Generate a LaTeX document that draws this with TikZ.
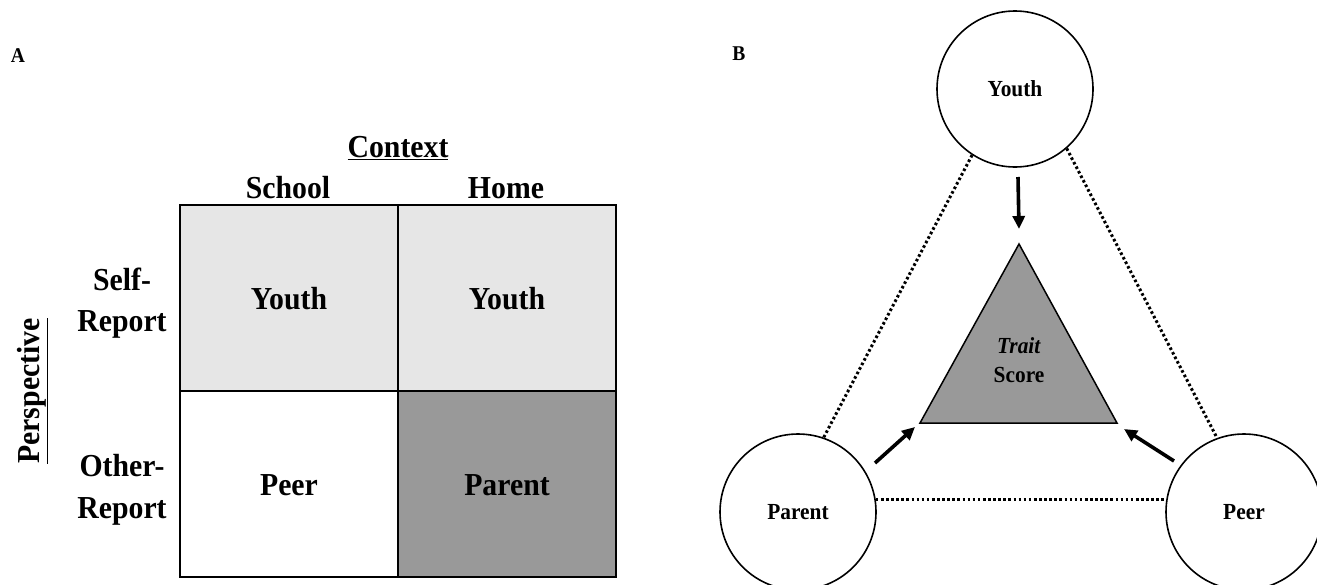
\documentclass[tikz,border=0pt]{standalone}
\usepackage{fontspec}
\setmainfont{Liberation Serif}[FakeStretch=0.93]
\usetikzlibrary{arrows.meta}
\definecolor{cellLight}{HTML}{E6E6E6}
\definecolor{cellDark}{HTML}{999999}
\begin{document}
\begin{tikzpicture}[x=1pt,y=-1pt,
  big/.style={font=\fontsize{32}{40}\selectfont\bfseries},
  small/.style={font=\fontsize{23}{28}\selectfont\bfseries},
  panel/.style={font=\fontsize{21}{24}\selectfont\bfseries},
  cell/.style={draw, line width=2pt, minimum width=218pt, minimum height=186pt,
    inner sep=0pt, text height=22pt, text depth=0pt, big},
  src/.style={circle, draw, line width=1.6pt, minimum size=156pt, inner sep=0pt,
    fill=white, small},
  dotline/.style={line width=3pt, dash pattern=on 2.6pt off 2.5pt},
  arr/.style={line width=3.6pt, -{Triangle[length=13pt,width=12pt]}}]
\useasboundingbox (0,0) rectangle (1317,584);
\fill[white] (0,0) rectangle (1317,584);

% ---------- Panel A ----------
\node[panel, anchor=base] (labA) at (18,62) {A};
\node[big, anchor=base] (context) at (398,157) {\underline{Context}};
\node[big, anchor=base] (school) at (288,198) {School};
\node[big, anchor=base] (home) at (506,198) {Home};

\node[cell, fill=cellLight] (c11) at (289,298) {Youth};
\node[cell, fill=cellLight] (c12) at (507,298) {Youth};
\node[cell, fill=white] (c21) at (289,484) {Peer};
\node[cell, fill=cellDark] (c22) at (507,484) {Parent};

\node[big, anchor=base] (selfa) at (122,290) {Self-};
\node[big, anchor=base] (selfb) at (122,331) {Report};
\node[big, anchor=base] (othera) at (122,476) {Other-};
\node[big, anchor=base] (otherb) at (122,518) {Report};
\node[big, anchor=base, rotate=90] (persp) at (39,391) {\underline{Perspective}};

% ---------- Panel B ----------
\node[panel, anchor=base] (labB) at (739,60) {B};

\coordinate (tA) at (1019,244);
\coordinate (tB) at (920,423);
\coordinate (tC) at (1117,423);
\draw[line width=1.5pt, fill=cellDark, line join=miter] (tA) -- (tB) -- (tC) -- cycle;
\node[small, anchor=base] (trait) at (1019,353) {\textit{Trait}};
\node[small, anchor=base] (score) at (1019,382) {Score};

\node[src] (youth) at (1015,89) {Youth};
\node[src] (parent) at (798,512) {Parent};
\node[src] (peer) at (1244,512) {Peer};

\draw[dotline] (youth.237) -- (parent.71);
\draw[dotline] (youth.311) -- (peer.110);
\draw[dotline] (parent.9) -- (peer.171);

\coordinate (ys) at (1018,177);
\coordinate (ye) at (1019,229);
\coordinate (ps) at (875,463);
\coordinate (pe) at (915,427);
\coordinate (qs) at (1174,461);
\coordinate (qe) at (1124,429);
\draw[arr] (ys) -- (ye);
\draw[arr] (ps) -- (pe);
\draw[arr] (qs) -- (qe);
\end{tikzpicture}
\end{document}
